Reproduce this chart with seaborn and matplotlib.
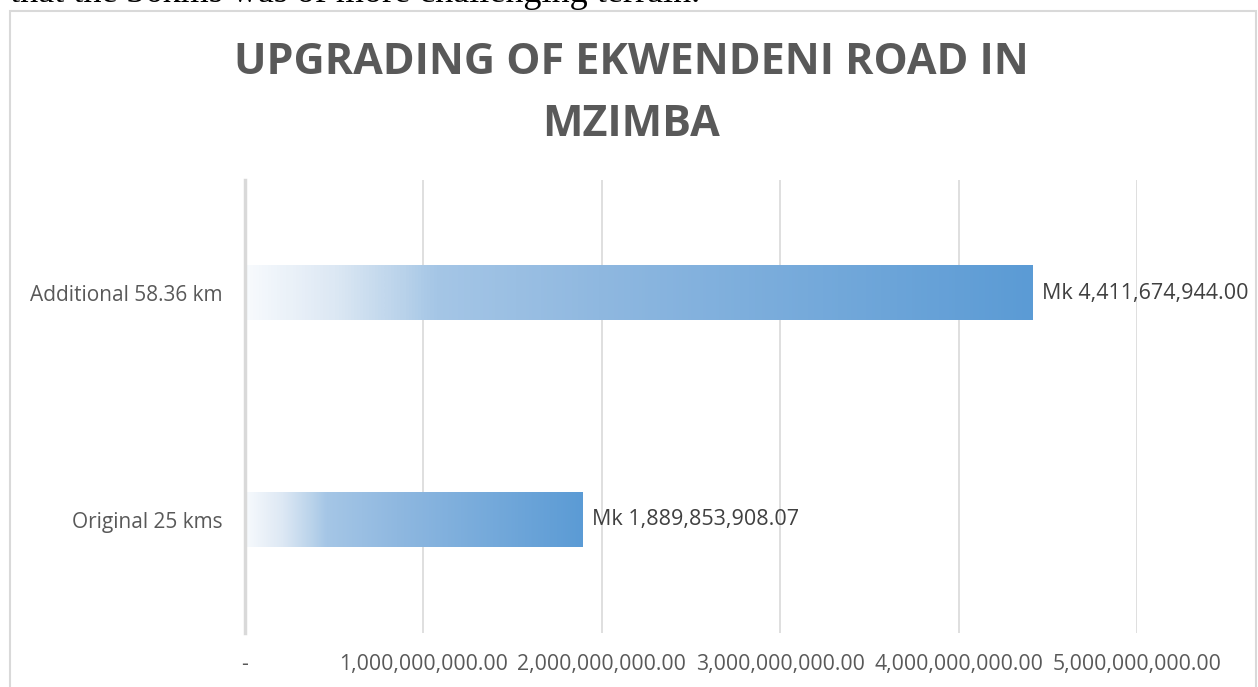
import numpy as np
import pandas as pd
import seaborn as sns
import matplotlib.pyplot as plt
from matplotlib.colors import LinearSegmentedColormap
from matplotlib.patches import Rectangle
from matplotlib.ticker import FuncFormatter

categories = ['Additional 58.36 km', 'Original 25 kms']
costs = [4411674944.00, 1889853908.07]
bar_labels = ['Mk 4,411,674,944.00', 'Mk 1,889,853,908.07']
x_ticks = [0, 1e9, 2e9, 3e9, 4e9, 5e9]

df = pd.DataFrame({'Section': categories, 'Cost': costs})

sns.set_theme(style='white')
plt.rcParams['font.family'] = ['Open Sans', 'DejaVu Sans']

fig = plt.figure(figsize=(12.58, 6.87), dpi=100)
ax = fig.add_axes([245 / 1258, 54 / 687, 892 / 1258, 453 / 687])

sns.barplot(data=df, x='Cost', y='Section', ax=ax, width=0.24,
            color='#5B9BD5', edgecolor='none', errorbar=None)

# excel-style gradient fill (light -> blue) on each bar
grad = LinearSegmentedColormap.from_list('excel_grad', [
    (0.0, '#f7fafd'), (0.11, '#dde8f4'), (0.2, '#b8d2ea'),
    (0.24, '#a5c6e6'), (0.45, '#8fb8e0'), (1.0, '#5b9bd5')])
ramp = np.linspace(0, 1, 256).reshape(1, -1)
for p in ax.patches:
    x0, y0 = p.get_x(), p.get_y()
    w, h = p.get_width(), p.get_height()
    ax.imshow(ramp, cmap=grad, aspect='auto', extent=[x0, x0 + w, y0, y0 + h],
              origin='lower', zorder=2, interpolation='bilinear')
    p.set_visible(False)

ax.set_xlim(0, 5e9)
ax.set_ylim(1.5, -0.5)
ax.set_xticks(x_ticks)
ax.xaxis.set_major_formatter(FuncFormatter(lambda v, pos: '-' if v == 0 else f'{v:,.2f}'))
ax.xaxis.grid(True, color='#d9d9d9', lw=1.2)
ax.set_axisbelow(True)
for s in ['top', 'right', 'bottom']:
    ax.spines[s].set_visible(False)
ax.spines['left'].set_color('#d9d9d9')
ax.spines['left'].set_linewidth(2.5)
ax.tick_params(axis='both', length=0, labelcolor='#595959')
ax.tick_params(axis='x', pad=15, labelsize=15.3)
ax.tick_params(axis='y', pad=16, labelsize=15)
ax.set_xlabel('')
ax.set_ylabel('')

for i, (v, t) in enumerate(zip(costs, bar_labels)):
    ax.annotate(t, xy=(v, i), xytext=(10, 0), textcoords='offset pixels',
                ha='left', va='center', fontsize=15.5, color='#404040')

fig.text(631.5 / 1258, 1 - 93.5 / 687, 'UPGRADING OF EKWENDENI ROAD IN\nMZIMBA',
         ha='center', va='center', fontsize=31, fontweight='bold',
         color='#595959', linespacing=1.56)

# chart frame and the clipped document text above it
fig.add_artist(Rectangle((9.5 / 1258, -0.1), 1246.5 / 1258, 1.1 - 11 / 687,
                         transform=fig.transFigure, fill=False,
                         ec='#d9d9d9', lw=1.5))
fig.text(10 / 1258, 1 - 2 / 687, 'that the 36kms was of more challenging terrain.',
         family='Liberation Serif', fontsize=26, va='baseline', color='black')

fig.savefig('out.png', dpi=100)
